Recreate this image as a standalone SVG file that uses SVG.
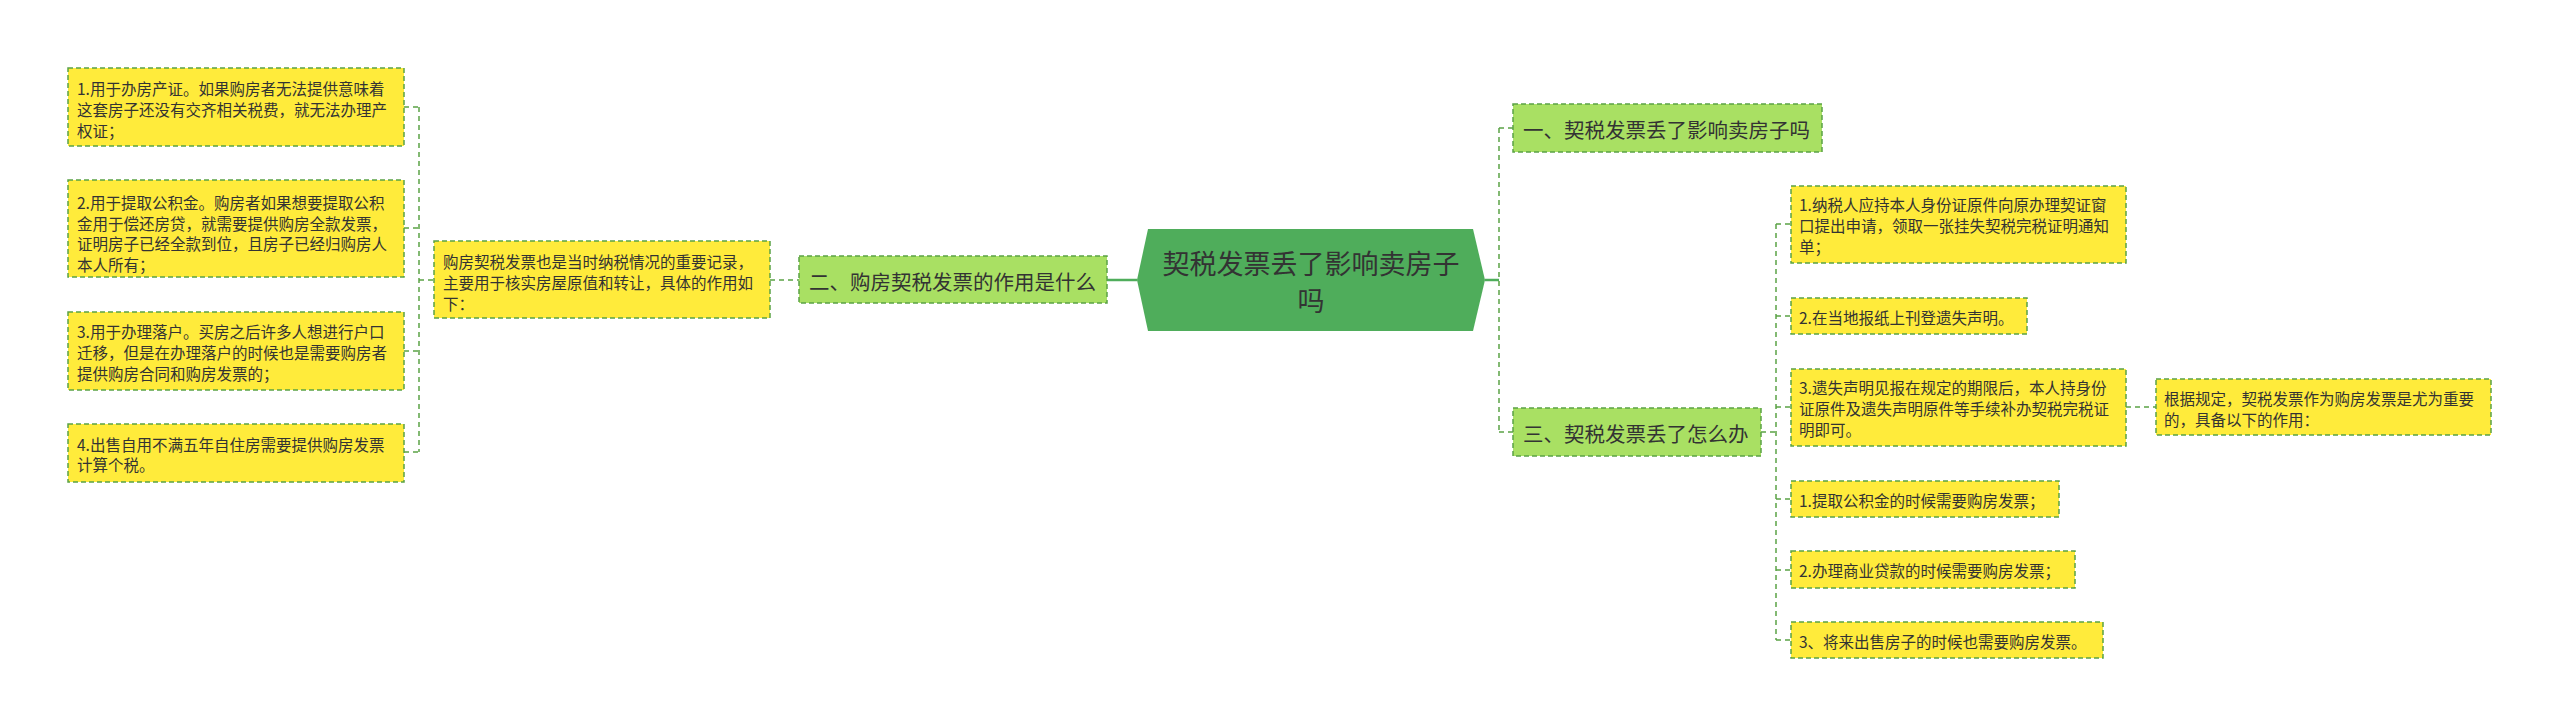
<svg xmlns="http://www.w3.org/2000/svg" width="2560" height="727" viewBox="0 0 2560 727">
<style>
.t{font-family:"Noto Sans CJK SC","Noto Sans",sans-serif;fill:#333;dominant-baseline:central}
.s{font-size:15.5px}
.m{font-size:20.5px}
.c{font-size:27px;text-anchor:middle}
.y{fill:#FFEB3B;stroke:#5BA346;stroke-width:1.5;stroke-dasharray:5 3}
.g{fill:#A9E063;stroke:#5BA346;stroke-width:1.5;stroke-dasharray:5 3}
.ln{fill:none;stroke:#5BA346;stroke-width:1.5;stroke-dasharray:5 4}
.sl{fill:none;stroke:#4FAD5B;stroke-width:2.5}
</style>
<rect width="2560" height="727" fill="#fff"/>
<g id="connectors">
<path class="sl" d="M1107 280H1137"/>
<path class="sl" d="M1485 280H1499"/>
<path class="ln" d="M1499 128V432M1499 128H1513M1499 432H1513"/>
<path class="ln" d="M770 280H799"/>
<path class="ln" d="M404 107H419M419 107V452M404 228H419M419 280H434M404 351H419M404 452H419"/>
<path class="ln" d="M1761 432H1776M1776 224V640M1776 224H1791M1776 316H1791M1776 407H1791M1776 499H1791M1776 570H1791M1776 640H1791"/>
<path class="ln" d="M2126 407H2156"/>
</g>
<g id="center">
<polygon points="1148,229 1473,229 1485,280 1473,331 1148,331 1137,280" fill="#4FAD5B"/>
<text class="t c" x="1311" y="262">契税发票丢了影响卖房子</text>
<text class="t c" x="1311" y="299">吗</text>
</g>
<g id="n2">
<rect class="g" x="799" y="256" width="308" height="47"/>
<text class="t m" x="809" y="281">二、购房契税发票的作用是什么</text>
</g>
<g id="intro">
<rect class="y" x="434" y="241" width="336" height="77"/>
<text class="t s" x="443" y="261">购房契税发票也是当时纳税情况的重要记录，</text>
<text class="t s" x="443" y="282">主要用于核实房屋原值和转让，具体的作用如</text>
<text class="t s" x="443" y="303">下：</text>
</g>
<g id="l1">
<rect class="y" x="68" y="68" width="336" height="78"/>
<text class="t s" x="77" y="88">1.用于办房产证。如果购房者无法提供意味着</text>
<text class="t s" x="77" y="109">这套房子还没有交齐相关税费，就无法办理产</text>
<text class="t s" x="77" y="130">权证；</text>
</g>
<g id="l2">
<rect class="y" x="68" y="180" width="336" height="97"/>
<text class="t s" x="77" y="202">2.用于提取公积金。购房者如果想要提取公积</text>
<text class="t s" x="77" y="222.5">金用于偿还房贷，就需要提供购房全款发票，</text>
<text class="t s" x="77" y="243">证明房子已经全款到位，且房子已经归购房人</text>
<text class="t s" x="77" y="263.5">本人所有；</text>
</g>
<g id="l3">
<rect class="y" x="68" y="312" width="336" height="78"/>
<text class="t s" x="77" y="331">3.用于办理落户。买房之后许多人想进行户口</text>
<text class="t s" x="77" y="352">迁移，但是在办理落户的时候也是需要购房者</text>
<text class="t s" x="77" y="373">提供购房合同和购房发票的；</text>
</g>
<g id="l4">
<rect class="y" x="68" y="424" width="336" height="58"/>
<text class="t s" x="77" y="443.5">4.出售自用不满五年自住房需要提供购房发票</text>
<text class="t s" x="77" y="464">计算个税。</text>
</g>
<g id="n1">
<rect class="g" x="1513" y="104" width="309" height="48"/>
<text class="t m" x="1523" y="129">一、契税发票丢了影响卖房子吗</text>
</g>
<g id="n3">
<rect class="g" x="1513" y="408" width="248" height="48"/>
<text class="t m" x="1523" y="433">三、契税发票丢了怎么办</text>
</g>
<g id="r1">
<rect class="y" x="1791" y="186" width="335" height="77"/>
<text class="t s" x="1799" y="204">1.纳税人应持本人身份证原件向原办理契证窗</text>
<text class="t s" x="1799" y="225">口提出申请，领取一张挂失契税完税证明通知</text>
<text class="t s" x="1799" y="246">单；</text>
</g>
<g id="r2">
<rect class="y" x="1791" y="298" width="236" height="36"/>
<text class="t s" x="1799" y="316.5">2.在当地报纸上刊登遗失声明。</text>
</g>
<g id="r3">
<rect class="y" x="1791" y="369" width="335" height="77"/>
<text class="t s" x="1799" y="387">3.遗失声明见报在规定的期限后，本人持身份</text>
<text class="t s" x="1799" y="408">证原件及遗失声明原件等手续补办契税完税证</text>
<text class="t s" x="1799" y="429">明即可。</text>
</g>
<g id="side">
<rect class="y" x="2156" y="379" width="335" height="56"/>
<text class="t s" x="2164" y="398">根据规定，契税发票作为购房发票是尤为重要</text>
<text class="t s" x="2164" y="419">的，具备以下的作用：</text>
</g>
<g id="r4">
<rect class="y" x="1791" y="481" width="268" height="36"/>
<text class="t s" x="1799" y="499.5">1.提取公积金的时候需要购房发票；</text>
</g>
<g id="r5">
<rect class="y" x="1791" y="551" width="284" height="37"/>
<text class="t s" x="1799" y="570">2.办理商业贷款的时候需要购房发票；</text>
</g>
<g id="r6">
<rect class="y" x="1791" y="622" width="312" height="36"/>
<text class="t s" x="1799" y="640.5">3、将来出售房子的时候也需要购房发票。</text>
</g>
</svg>
